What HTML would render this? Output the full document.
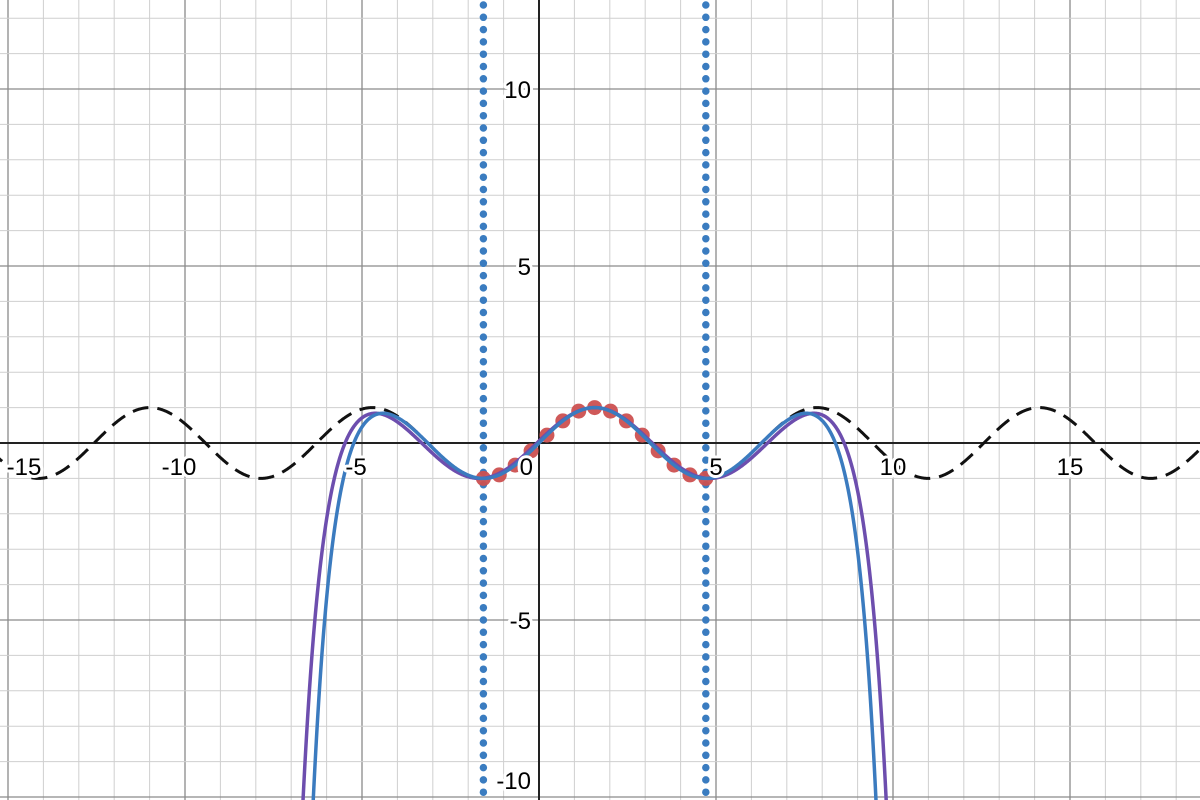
<!DOCTYPE html>
<html><head><meta charset="utf-8"><style>
html,body{margin:0;padding:0;background:#fff;width:1200px;height:800px;overflow:hidden;}
svg{display:block;font-family:"Liberation Sans",sans-serif;overflow:hidden;}
</style></head><body>
<svg id="chart" width="1200" height="800" viewBox="0 0 1200 800" xmlns="http://www.w3.org/2000/svg"></svg>
<script>
const xTicks=[-15,-10,-5,0,5,10,15];
const yTicks=[-10,-5,5,10];
const sampleXs=[];for(let k=0;k<=14;k++)sampleXs.push(-Math.PI/2+k*Math.PI/7);
const verticalLineXs=[-Math.PI/2,3*Math.PI/2];
const taylorCenter=Math.PI/2;
const blueDegree=14;
const purpleDegree=14;
const purpleScale=0.965;

const S=35.4,OX=539,OY=443,W=1200,H=800;
const sx=x=>OX+x*S, sy=y=>OY-y*S;
const svg=document.getElementById('chart');
const NS='http://www.w3.org/2000/svg';
function mk(t,a){const e=document.createElementNS(NS,t);for(const k in a)e.setAttribute(k,a[k]);svg.appendChild(e);return e;}
for(let i=-16;i<=19;i++){const l=mk('line',{x1:sx(i),x2:sx(i),y1:0,y2:H,stroke:i%5===0?'#8a8a8a':'#cfcfcf','stroke-width':i%5===0?1.3:1});
}
for(let j=-11;j<=13;j++){const l=mk('line',{x1:0,x2:W,y1:sy(j),y2:sy(j),stroke:j%5===0?'#8a8a8a':'#cfcfcf','stroke-width':j%5===0?1.3:1});
}
let ax=mk('line',{x1:0,x2:W,y1:OY,y2:OY,stroke:'#222','stroke-width':2});

let ay=mk('line',{x1:OX,x2:OX,y1:0,y2:H,stroke:'#222','stroke-width':2});

function path(f,x0,x1,attrs,name){let d='';let pen=false;
 for(let px=sx(x0);px<=sx(x1);px+=0.5){const x=(px-OX)/S,y=f(x),py=sy(y);
  if(py<-20||py>H+20){pen=false;continue;}d+=(pen?'L':'M')+px.toFixed(2)+' '+py.toFixed(2);pen=true;}
 const p=mk('path',Object.assign({d:d,fill:'none'},attrs));
 return p;}
function taylor(n,sc){return x=>{const u=(x-taylorCenter)*sc;let s=0,t=1;for(let k=0;2*k<=n;k++){if(k>0)t*=-u*u/((2*k-1)*(2*k));s+=t;}return s;};}
path(Math.sin,-16,19,{stroke:'#111','stroke-width':3,'stroke-dasharray':'16 9'},'sine-curve');
verticalLineXs.forEach(v=>{const l=mk('line',{x1:sx(v),x2:sx(v),y1:5,y2:H,stroke:'#3a7cc0','stroke-width':7.5,'stroke-linecap':'round','stroke-dasharray':'0 12.3'});
 });
sampleXs.forEach(x=>{const c=mk('circle',{cx:sx(x),cy:sy(Math.sin(x)),r:7.5,fill:'#cc5050',opacity:0.95});
 });
path(taylor(purpleDegree,purpleScale),-10,14,{stroke:'#6d4eae','stroke-width':3.5},'taylor-purple');
path(taylor(blueDegree,1),-10,14,{stroke:'#3b7bbf','stroke-width':3.5},'taylor-blue');
function label(txt,x,y,anchor,name){
 const a={x:x,y:y,'font-size':24,'text-anchor':anchor,fill:'#000',stroke:'#fff','stroke-width':6,'paint-order':'stroke','stroke-linejoin':'round'};
 const t=mk('text',a);t.textContent=txt;}
xTicks.forEach(v=>{let px=sx(v)+(v<0?-6:0);px=Math.max(px,24);
 if(v===0)label('0',OX-6,OY+32,'end','x-tick-label');else label(String(v),px,OY+32,'middle','x-tick-label');});
yTicks.forEach(v=>label(String(v),OX-8,Math.min(sy(v)+9,789),'end','y-tick-label'));
</script>
</body></html>
